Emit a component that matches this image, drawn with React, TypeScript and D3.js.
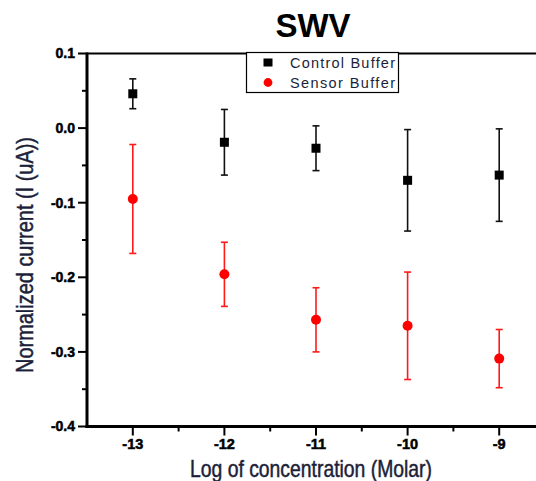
import React from "react";
import * as d3 from "d3";

const concentrations = [-13, -12, -11, -10, -9];
const controlMeans = [0.046, -0.019, -0.027, -0.07, -0.063];
const controlErrors = [0.02, 0.044, 0.03, 0.068, 0.062];
const sensorMeans = [-0.095, -0.196, -0.257, -0.265, -0.309];
const sensorErrors = [0.073, 0.043, 0.043, 0.072, 0.039];
const yTicks = [0.1, 0.0, -0.1, -0.2, -0.3, -0.4];
const xTickLabels = ["-13", "-12", "-11", "-10", "-9"];

const W = 536;
const H = 481;
const left = 87;
const top = 53.5;
const bottom = 426.5;

export default function App() {
  const x = d3.scaleLinear().domain([-13.5, -8.5]).range([left, left + 458]);
  const y = d3.scaleLinear().domain([-0.4, 0.1]).range([bottom, top]);
  const minorY = d3.range(-0.35, 0.1, 0.1);
  const minorX = d3.range(-12.5, -8.4, 1);
  const tickFont = "'Liberation Sans', Arial, sans-serif";
  const titleFont = "'Liberation Sans', Arial, sans-serif";
  const textColor = "#1c1f3a";

  const errBar = (cx: number, m: number, e: number, color: string, key: string) => (
    <g key={key} stroke={color} strokeWidth={1.6}>
      <line x1={x(cx)} x2={x(cx)} y1={y(m + e)} y2={y(m - e)} />
      <line x1={x(cx) - 3.5} x2={x(cx) + 3.5} y1={y(m + e)} y2={y(m + e)} />
      <line x1={x(cx) - 3.5} x2={x(cx) + 3.5} y1={y(m - e)} y2={y(m - e)} />
    </g>
  );

  return (
    <svg width={W} height={H} style={{ position: "absolute", left: 0, top: 0 }}>
      <rect width={W} height={H} fill="#fff" />
      <text x={313} y={37} textAnchor="middle" fontFamily="'Liberation Sans', Arial, sans-serif" fontWeight="bold" fontSize={33} fill="#000">SWV</text>

      {/* frame */}
      <line x1={left} x2={W} y1={top} y2={top} stroke="#000" strokeWidth={2} />
      <line x1={left} x2={left} y1={top - 1} y2={bottom + 1.5} stroke="#000" strokeWidth={3} />
      <line x1={left - 1.5} x2={W} y1={bottom} y2={bottom} stroke="#000" strokeWidth={3} />

      {/* y ticks */}
      {yTicks.map((t) => (
        <g key={"yt" + t}>
          <line x1={left - 9} x2={left} y1={y(t)} y2={y(t)} stroke="#000" strokeWidth={2} />
          <text x={75} y={y(t) + 4.8} textAnchor="end" fontFamily={tickFont} fontWeight="bold" fontSize={14} stroke="#000" strokeWidth={0.5} fill="#000">{t.toFixed(1)}</text>
        </g>
      ))}
      {minorY.map((t) => (
        <line key={"ym" + t} x1={left - 5} x2={left} y1={y(t)} y2={y(t)} stroke="#000" strokeWidth={2} />
      ))}

      {/* x ticks */}
      {concentrations.map((c, i) => (
        <g key={"xt" + c}>
          <line x1={x(c)} x2={x(c)} y1={bottom} y2={bottom + 9} stroke="#000" strokeWidth={2} />
          <text x={x(c)} y={bottom + 22} textAnchor="middle" fontFamily={tickFont} fontWeight="bold" fontSize={14.5} stroke="#000" strokeWidth={0.5} fill="#000">{xTickLabels[i]}</text>
        </g>
      ))}
      {minorX.map((c) => (
        <line key={"xm" + c} x1={x(c)} x2={x(c)} y1={bottom} y2={bottom + 5} stroke="#000" strokeWidth={2} />
      ))}

      {/* error bars and markers */}
      {concentrations.map((c, i) => errBar(c, controlMeans[i], controlErrors[i], "#111", "ce" + i))}
      {concentrations.map((c, i) => errBar(c, sensorMeans[i], sensorErrors[i], "#ff1a1a", "se" + i))}
      {concentrations.map((c, i) => (
        <rect key={"cm" + i} x={x(c) - 4.5} y={y(controlMeans[i]) - 4.5} width={9} height={9} fill="#000" />
      ))}
      {concentrations.map((c, i) => (
        <circle key={"sm" + i} cx={x(c)} cy={y(sensorMeans[i])} r={5} fill="#ff0000" />
      ))}

      {/* legend */}
      <rect x={246.5} y={52.5} width={152} height={40} fill="#fff" stroke="#000" strokeWidth={1.2} />
      <rect x={263.5} y={58.5} width={9} height={8} fill="#000" />
      <circle cx={268} cy={82.5} r={4.4} fill="#ff0000" />
      <text x={290} y={67.5} fontFamily="'Liberation Sans', Arial, sans-serif" fontSize={14.5} textLength={105} lengthAdjust="spacing" fill={textColor}>Control Buffer</text>
      <text x={290} y={88} fontFamily="'Liberation Sans', Arial, sans-serif" fontSize={14.5} textLength={105} lengthAdjust="spacing" fill={textColor}>Sensor Buffer</text>

      {/* axis titles */}
      <text x={190} y={476.5} fontFamily={titleFont} fontSize={24} textLength={242} lengthAdjust="spacingAndGlyphs" stroke={textColor} strokeWidth={0.5} fill={textColor}>Log of concentration (Molar)</text>
      <text transform={`translate(33,373) rotate(-90)`} fontFamily={titleFont} fontSize={24} textLength={236} lengthAdjust="spacingAndGlyphs" stroke={textColor} strokeWidth={0.5} fill={textColor}>Normalized current (I (uA))</text>
    </svg>
  );
}
